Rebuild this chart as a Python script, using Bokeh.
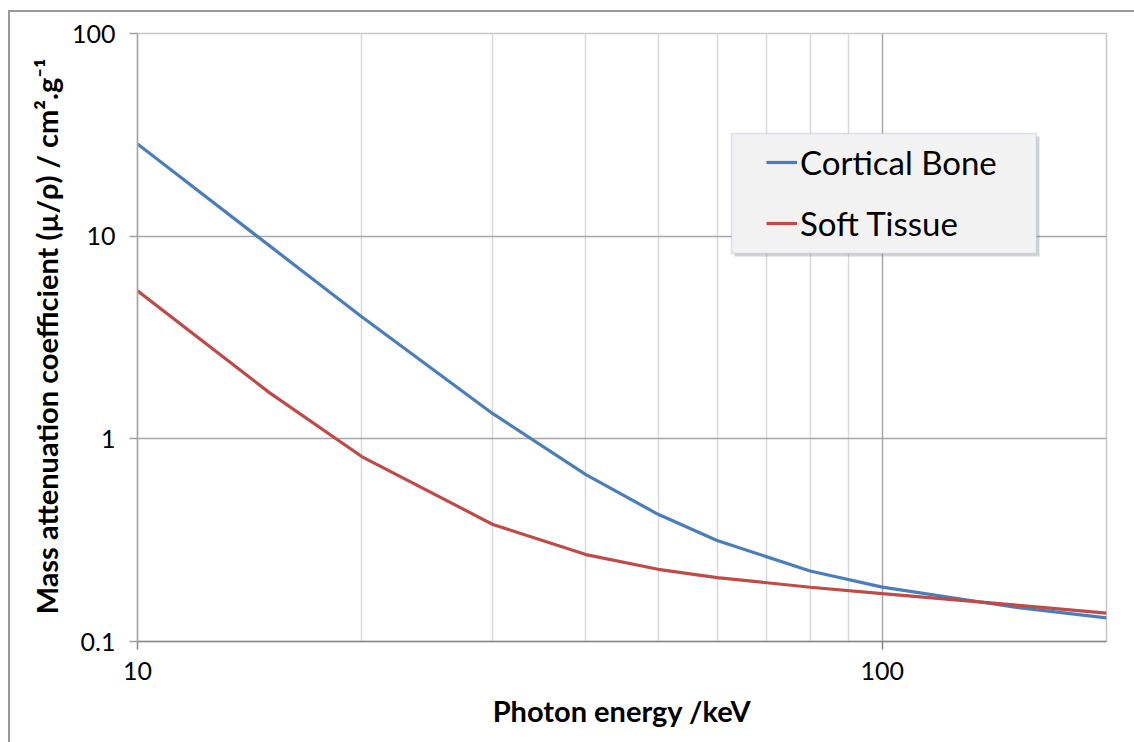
from bokeh.plotting import figure
from bokeh.models import (FixedTicker, CustomJSTickFormatter, Legend, LegendItem,
                          BoxAnnotation)
from bokeh.embed import file_html
from bokeh.resources import INLINE

# Photon energy (keV)
energy = [10, 15, 20, 30, 40, 50, 60, 80, 100, 150, 200]
# Mass attenuation coefficient (cm^2/g)
cortical_bone = [28.51, 9.032, 4.001, 1.331, 0.6655, 0.4242, 0.3148, 0.2229, 0.1855, 0.1480, 0.1309]
soft_tissue = [5.379, 1.700, 0.8176, 0.3780, 0.2684, 0.2271, 0.2067, 0.1852, 0.1722, 0.1515, 0.1379]

x_major = [10, 100]
x_minor = [20, 30, 40, 50, 60, 70, 80, 90, 200]
y_major = [0.1, 1, 10, 100]

FONT = "Lato"

p = figure(width=1124, height=730, x_axis_type="log", y_axis_type="log",
           x_range=(10, 200), y_range=(0.1, 100),
           output_backend="svg", toolbar_location=None,
           min_border_left=127, min_border_top=21, min_border_right=28, min_border_bottom=101,
           frame_width=969, frame_height=608)
p.styles = {"margin-left": "8px", "margin-top": "10px",
            "border-left": "2px solid #9a9a9a", "border-top": "2px solid #9a9a9a"}

p.outline_line_color = "#c8c8c8"
p.outline_line_width = 1.5

p.xaxis.ticker = FixedTicker(ticks=x_major, minor_ticks=x_minor)
p.yaxis.ticker = FixedTicker(ticks=y_major)
p.xaxis.formatter = CustomJSTickFormatter(code="return tick.toString();")
p.yaxis.formatter = CustomJSTickFormatter(code="return tick.toString();")

for ax in (p.xaxis[0], p.yaxis[0]):
    ax.major_tick_out = 8
    ax.major_tick_in = 0
    ax.minor_tick_out = 0
    ax.minor_tick_in = 0
    ax.major_tick_line_color = "#a0a0a0"
    ax.major_tick_line_width = 1.5
    ax.axis_line_color = "#a8a8a8"
    ax.axis_line_width = 1.5
    ax.major_label_text_font = FONT
    ax.major_label_text_font_size = "25px"
    ax.major_label_text_color = "#000000"
    ax.axis_label_text_font = FONT
    ax.axis_label_text_font_style = "bold"
    ax.axis_label_text_font_size = "29px"
    ax.axis_label_text_color = "#000000"

p.xaxis.axis_line_color = "#868686"
p.xaxis.major_tick_line_color = "#868686"
p.xaxis.major_label_standoff = 12
p.yaxis.major_label_standoff = 14
p.xaxis.axis_label = "Photon energy /keV"
p.yaxis.axis_label = "Mass attenuation coefficient (µ/ρ) / cm².g⁻¹"
p.xaxis.axis_label_standoff = 10
p.yaxis.axis_label_standoff = 5

p.xgrid.ticker = p.xaxis.ticker
p.ygrid.ticker = p.yaxis.ticker
p.xgrid.grid_line_color = "#a6a6a6"
p.xgrid.grid_line_width = 1.5
p.xgrid.minor_grid_line_color = "#d9d9d9"
p.xgrid.minor_grid_line_width = 1.5
p.ygrid.grid_line_color = "#a6a6a6"
p.ygrid.grid_line_width = 1.5

r_bone = p.line(energy, cortical_bone, line_color="#4A7EBB", line_width=3.2)
r_soft = p.line(energy, soft_tissue, line_color="#BE4B48", line_width=3.2)

# legend frame and its shadow
shadow = BoxAnnotation(left=597, right=902, bottom=385, top=505,
                       left_units="screen", right_units="screen",
                       bottom_units="screen", top_units="screen",
                       fill_color="#808080", fill_alpha=0.35, line_color=None)
box = BoxAnnotation(left=594, right=899, bottom=388, top=508,
                    left_units="screen", right_units="screen",
                    bottom_units="screen", top_units="screen",
                    fill_color="#f2f2f2", fill_alpha=1.0,
                    line_color="#8aa8d4", line_width=1.5)
p.add_layout(shadow)
p.add_layout(box)

legend = Legend(items=[LegendItem(label="Cortical Bone", renderers=[r_bone]),
                       LegendItem(label="Soft Tissue", renderers=[r_soft])],
                location=(629, 396), padding=0, spacing=17,
                glyph_width=31, glyph_height=44, label_height=44,
                label_standoff=3, margin=0,
                background_fill_alpha=0, border_line_color=None,
                label_text_font=FONT, label_text_font_size="33px",
                label_text_color="#000000")
p.add_layout(legend)

open("out.html", "w").write(file_html(p, INLINE))
